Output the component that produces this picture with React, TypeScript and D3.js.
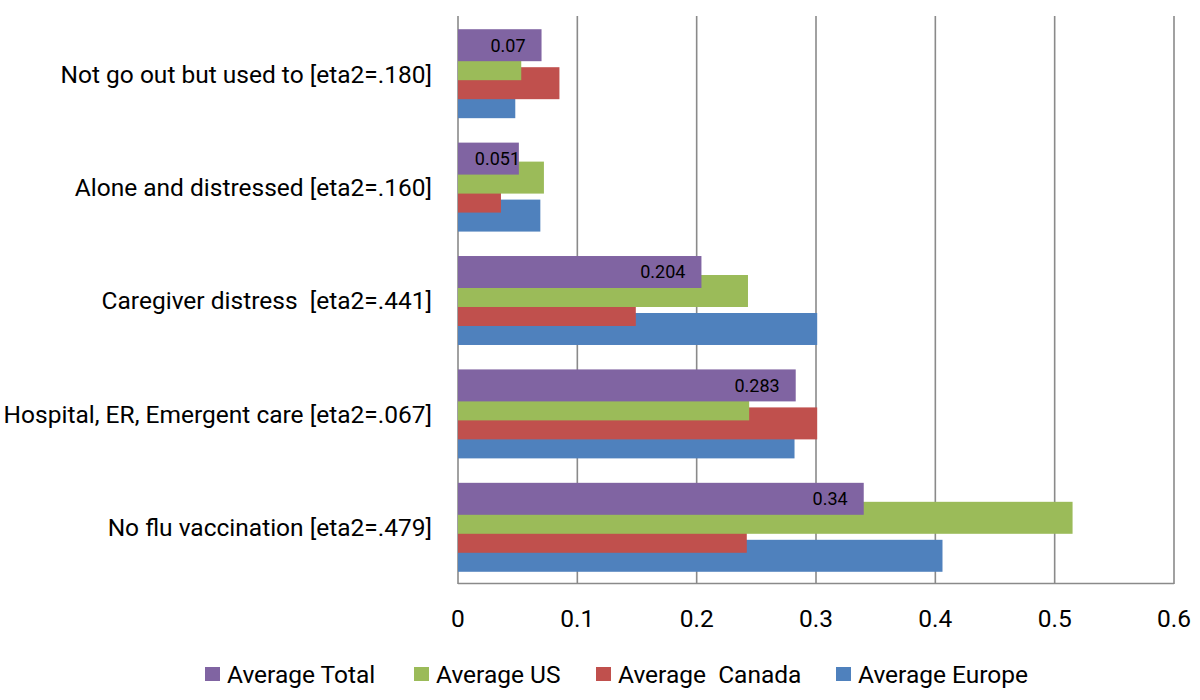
import * as d3 from "d3";

// categories, top to bottom
const categories = [
  "Not go out but used to [eta2=.180]",
  "Alone and distressed [eta2=.160]",
  "Caregiver distress \u00a0[eta2=.441]",
  "Hospital, ER, Emergent care [eta2=.067]",
  "No flu vaccination [eta2=.479]",
];

// series, in the order drawn inside each group (top first)
const seriesNames = ["Average Total", "Average US", "Average \u00a0Canada", "Average Europe"];
const seriesColors = ["#8064A2", "#9BBB59", "#C0504D", "#4F81BD"];

const averageTotal = [0.07, 0.051, 0.204, 0.283, 0.34];
const averageUS = [0.053, 0.072, 0.243, 0.244, 0.515];
const averageCanada = [0.085, 0.036, 0.149, 0.301, 0.242];
const averageEurope = [0.048, 0.069, 0.301, 0.282, 0.406];

const xTicks = [0, 0.1, 0.2, 0.3, 0.4, 0.5, 0.6];

const seriesValues = [averageTotal, averageUS, averageCanada, averageEurope];

const W = 1200;
const H = 700;
const FONT = "Roboto, 'Open Sans', sans-serif";

export default function App() {
  const x = d3.scaleLinear().domain([0, 0.6]).range([458, 1174]);
  const y = d3.scaleBand<string>().domain(categories).range([17, 584]);

  const band = y.bandwidth();
  const barH = band * 0.282;
  const step = band * 0.1675;
  const offset = (band - (step * 3 + barH)) / 2;

  const barY = (cat: string, si: number) => (y(cat) as number) + offset + si * step;

  // draw bottom series first so the top bar sits above
  const drawOrder = [3, 2, 1, 0];

  // legend text starts
  const legendX = [227, 436, 618, 858];

  return (
    <svg
      width={W}
      height={H}
      style={{ position: "absolute", left: 0, top: 0, background: "#fff" }}
      fontFamily={FONT}
    >
      <rect width={W} height={H} fill="#fff" />

      {/* gridlines */}
      {xTicks.map((t) => (
        <line
          key={t}
          x1={x(t)}
          x2={x(t)}
          y1={16}
          y2={584}
          stroke="#8a8a8a"
          strokeWidth={1.6}
        />
      ))}
      <line x1={x(0)} x2={x(0.6)} y1={583.5} y2={583.5} stroke="#8a8a8a" strokeWidth={1.6} />

      {/* bars */}
      {drawOrder.map((si) =>
        categories.map((cat, ci) => (
          <rect
            key={`${si}-${ci}`}
            x={x(0)}
            y={barY(cat, si)}
            width={x(seriesValues[si][ci]) - x(0)}
            height={barH}
            fill={seriesColors[si]}
          />
        ))
      )}

      {/* data labels on the total series */}
      {categories.map((cat, ci) => {
        const v = averageTotal[ci];
        const label = String(v);
        const approxW = label.length * 10.2 - 5;
        let end = x(v) - 16;
        if (end - approxW < x(0) + 16) end = x(0) + 16 + approxW;
        return (
          <text
            key={cat}
            x={end}
            y={barY(cat, 0) + barH / 2}
            dy="0.36em"
            textAnchor="end"
            fontSize={18}
            fill="#000"
          >
            {label}
          </text>
        );
      })}

      {/* category labels */}
      {categories.map((cat) => (
        <text
          key={cat}
          x={432}
          y={(y(cat) as number) + band / 2}
          dy="0.36em"
          textAnchor="end"
          fontSize={24.5}
          fill="#000"
        >
          {cat}
        </text>
      ))}

      {/* x tick labels */}
      {xTicks.map((t) => (
        <text key={t} x={x(t)} y={618} dy="0.36em" textAnchor="middle" fontSize={24.5} fill="#000">
          {String(t)}
        </text>
      ))}

      {/* legend */}
      {seriesNames.map((name, i) => (
        <g key={name} transform={`translate(${legendX[i]},674)`}>
          <rect x={-22} y={-7} width={15} height={14} fill={seriesColors[i]} />
          <text x={0} y={0} dy="0.36em" fontSize={24.5} fill="#000">
            {name}
          </text>
        </g>
      ))}
    </svg>
  );
}
